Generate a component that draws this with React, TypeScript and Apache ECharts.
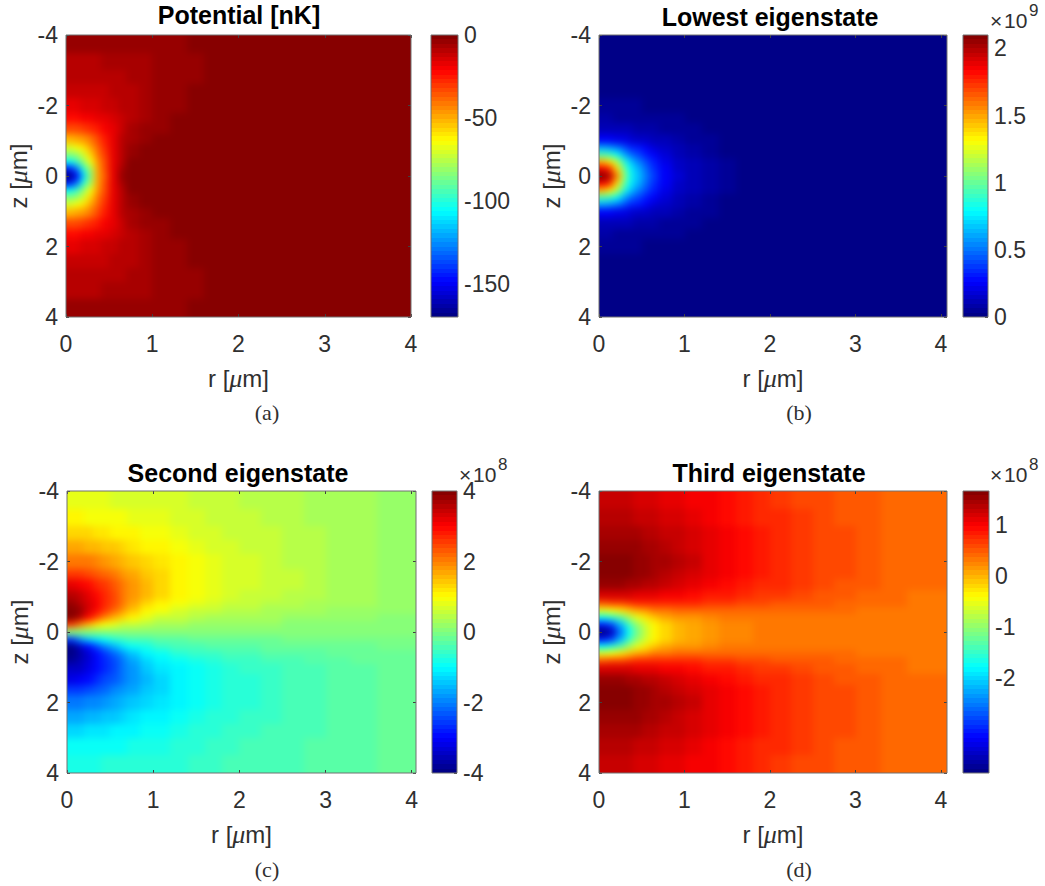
import React, { useEffect, useRef } from "react";
import * as echarts from "echarts";

const zEdges = [-4, -3.5, -3, -2.6, -2.2, -1.8, -1.5, -1.2, -0.9, -0.7, -0.5, -0.3, -0.1, 0.1, 0.3, 0.5, 0.7, 0.9, 1.2, 1.5, 1.8, 2.2, 2.6, 3, 3.5, 4];
const rEdgesFine = [0, 0.08, 0.16, 0.24, 0.32, 0.4, 0.5, 0.6, 0.7, 0.85, 1, 1.2, 1.4, 1.6, 2, 4.1];
const rEdgesWide = [0, 0.1, 0.2, 0.3, 0.4, 0.5, 0.6, 0.7, 0.85, 1, 1.2, 1.4, 1.6, 1.8, 2, 2.25, 2.5, 2.75, 3, 3.3, 3.6, 4.1];

const potential = [
  [-5, -5, -5, -5, -5, -5, -5, -5, -5, -5, -4, -4, -1, -1, -1],
  [-8, -8, -8, -8, -8, -7, -7, -7, -6, -6, -5, -4, -3, -1, -1],
  [-10, -10, -10, -10, -10, -9, -9, -8, -7, -6, -5, -4, -3, -1, -1],
  [-13, -13, -12, -12, -12, -11, -10, -9, -8, -6, -5, -4, -2, -1, -1],
  [-16, -16, -15, -15, -14, -13, -12, -10, -8, -6, -5, -3, -2, -1, -1],
  [-22, -22, -21, -20, -18, -16, -14, -11, -8, -6, -4, -2, -1, -1, -1],
  [-33, -32, -30, -27, -24, -20, -16, -11, -7, -4, -3, -1, -1, -1, -1],
  [-52, -50, -46, -40, -33, -25, -17, -10, -6, -3, -1, -1, -1, -1, -1],
  [-70, -66, -60, -50, -38, -28, -17, -10, -4, -2, -1, -1, -1, -1, -1],
  [-85, -80, -70, -58, -42, -30, -18, -9, -3, -1, -1, -1, -1, -1, -1],
  [-105, -98, -82, -66, -46, -32, -18, -8, -2, -1, -1, -1, -1, -1, -1],
  [-145, -130, -100, -78, -50, -34, -18, -6, -2, -1, -1, -1, -1, -1, -1],
  [-170, -150, -112, -85, -50, -35, -18, -5, -1, -1, -1, -1, -1, -1, -1],
  [-145, -130, -100, -78, -50, -34, -18, -6, -2, -1, -1, -1, -1, -1, -1],
  [-105, -98, -82, -66, -46, -32, -18, -8, -2, -1, -1, -1, -1, -1, -1],
  [-85, -80, -70, -58, -42, -30, -18, -9, -3, -1, -1, -1, -1, -1, -1],
  [-70, -66, -60, -50, -38, -28, -17, -10, -4, -2, -1, -1, -1, -1, -1],
  [-52, -50, -46, -40, -33, -25, -17, -10, -6, -3, -1, -1, -1, -1, -1],
  [-33, -32, -30, -27, -24, -20, -16, -11, -7, -4, -3, -1, -1, -1, -1],
  [-22, -22, -21, -20, -18, -16, -14, -11, -8, -6, -4, -2, -1, -1, -1],
  [-16, -16, -15, -15, -14, -13, -12, -10, -8, -6, -5, -3, -2, -1, -1],
  [-13, -13, -12, -12, -12, -11, -10, -9, -8, -6, -5, -4, -2, -1, -1],
  [-10, -10, -10, -10, -10, -9, -9, -8, -7, -6, -5, -4, -3, -1, -1],
  [-8, -8, -8, -8, -8, -7, -7, -7, -6, -6, -5, -4, -3, -1, -1],
  [-5, -5, -5, -5, -5, -5, -5, -5, -5, -5, -4, -4, -1, -1, -1],
];

const lowest = [
  [0, 0, 0, 0, 0, 0, 0, 0, 0, 0, 0, 0, 0, 0, 0],
  [0, 0, 0, 0, 0, 0, 0, 0, 0, 0, 0, 0, 0, 0, 0],
  [0, 0, 0, 0, 0, 0, 0, 0, 0, 0, 0, 0, 0, 0, 0],
  [0.012, 0.012, 0.012, 0.01, 0.01, 0, 0, 0, 0, 0, 0, 0, 0, 0, 0],
  [0.04, 0.04, 0.038, 0.036, 0.035, 0.033, 0.03, 0.03, 0.025, 0.02, 0.012, 0, 0, 0, 0],
  [0.07, 0.07, 0.065, 0.06, 0.06, 0.055, 0.05, 0.045, 0.04, 0.035, 0.025, 0.015, 0, 0, 0],
  [0.13, 0.13, 0.12, 0.11, 0.1, 0.09, 0.08, 0.075, 0.065, 0.055, 0.04, 0.03, 0.01, 0, 0],
  [0.25, 0.24, 0.22, 0.2, 0.18, 0.16, 0.14, 0.12, 0.1, 0.08, 0.06, 0.04, 0.02, 0, 0],
  [0.6, 0.56, 0.5, 0.43, 0.36, 0.3, 0.24, 0.19, 0.14, 0.11, 0.08, 0.05, 0.025, 0.005, 0],
  [0.95, 0.9, 0.8, 0.65, 0.52, 0.42, 0.32, 0.25, 0.18, 0.13, 0.09, 0.06, 0.03, 0.008, 0],
  [1.45, 1.35, 1.15, 0.9, 0.7, 0.55, 0.4, 0.3, 0.21, 0.14, 0.1, 0.07, 0.035, 0.01, 0],
  [1.85, 1.75, 1.4, 1.05, 0.8, 0.63, 0.46, 0.35, 0.24, 0.16, 0.11, 0.075, 0.04, 0.01, 0],
  [2.1, 2.0, 1.6, 1.15, 0.85, 0.68, 0.5, 0.38, 0.25, 0.17, 0.12, 0.08, 0.04, 0.01, 0],
  [1.85, 1.75, 1.4, 1.05, 0.8, 0.63, 0.46, 0.35, 0.24, 0.16, 0.11, 0.075, 0.04, 0.01, 0],
  [1.45, 1.35, 1.15, 0.9, 0.7, 0.55, 0.4, 0.3, 0.21, 0.14, 0.1, 0.07, 0.035, 0.01, 0],
  [0.95, 0.9, 0.8, 0.65, 0.52, 0.42, 0.32, 0.25, 0.18, 0.13, 0.09, 0.06, 0.03, 0.008, 0],
  [0.6, 0.56, 0.5, 0.43, 0.36, 0.3, 0.24, 0.19, 0.14, 0.11, 0.08, 0.05, 0.025, 0.005, 0],
  [0.25, 0.24, 0.22, 0.2, 0.18, 0.16, 0.14, 0.12, 0.1, 0.08, 0.06, 0.04, 0.02, 0, 0],
  [0.13, 0.13, 0.12, 0.11, 0.1, 0.09, 0.08, 0.075, 0.065, 0.055, 0.04, 0.03, 0.01, 0, 0],
  [0.07, 0.07, 0.065, 0.06, 0.06, 0.055, 0.05, 0.045, 0.04, 0.035, 0.025, 0.015, 0, 0, 0],
  [0.04, 0.04, 0.038, 0.036, 0.035, 0.033, 0.03, 0.03, 0.025, 0.02, 0.012, 0, 0, 0, 0],
  [0.012, 0.012, 0.012, 0.01, 0.01, 0, 0, 0, 0, 0, 0, 0, 0, 0, 0],
  [0, 0, 0, 0, 0, 0, 0, 0, 0, 0, 0, 0, 0, 0, 0],
  [0, 0, 0, 0, 0, 0, 0, 0, 0, 0, 0, 0, 0, 0, 0],
  [0, 0, 0, 0, 0, 0, 0, 0, 0, 0, 0, 0, 0, 0, 0],
];

const second = [
  [0.78, 0.78, 0.77, 0.76, 0.75, 0.74, 0.73, 0.72, 0.7, 0.67, 0.63, 0.58, 0.54, 0.5, 0.46, 0.42, 0.38, 0.35, 0.31, 0.27, 0.22],
  [1.0, 1.0, 0.98, 0.96, 0.94, 0.92, 0.9, 0.87, 0.83, 0.78, 0.72, 0.66, 0.6, 0.55, 0.5, 0.46, 0.41, 0.37, 0.32, 0.28, 0.22],
  [1.3, 1.28, 1.25, 1.2, 1.15, 1.12, 1.08, 1.03, 0.96, 0.9, 0.82, 0.74, 0.67, 0.61, 0.55, 0.5, 0.44, 0.39, 0.34, 0.29, 0.23],
  [1.7, 1.65, 1.6, 1.52, 1.45, 1.38, 1.3, 1.2, 1.12, 1.02, 0.92, 0.82, 0.74, 0.67, 0.6, 0.53, 0.47, 0.41, 0.35, 0.3, 0.23],
  [2.1, 2.05, 2, 1.9, 1.8, 1.7, 1.58, 1.45, 1.3, 1.16, 1.02, 0.9, 0.8, 0.72, 0.63, 0.56, 0.49, 0.43, 0.37, 0.3, 0.24],
  [2.6, 2.55, 2.45, 2.3, 2.15, 2, 1.85, 1.65, 1.45, 1.27, 1.08, 0.95, 0.83, 0.74, 0.65, 0.57, 0.5, 0.44, 0.37, 0.31, 0.24],
  [3.15, 3.05, 2.9, 2.7, 2.5, 2.3, 2.05, 1.8, 1.55, 1.3, 1.1, 0.95, 0.83, 0.74, 0.65, 0.57, 0.5, 0.43, 0.37, 0.3, 0.24],
  [3.5, 3.4, 3.15, 2.9, 2.65, 2.4, 2.1, 1.8, 1.5, 1.25, 1.03, 0.9, 0.78, 0.7, 0.6, 0.53, 0.46, 0.4, 0.34, 0.28, 0.22],
  [3.85, 3.6, 3.3, 3.0, 2.7, 2.4, 2.05, 1.65, 1.35, 1.1, 0.9, 0.77, 0.67, 0.6, 0.52, 0.46, 0.4, 0.35, 0.3, 0.25, 0.2],
  [4, 3.75, 3.35, 2.95, 2.55, 2.15, 1.8, 1.4, 1.1, 0.88, 0.72, 0.6, 0.53, 0.47, 0.41, 0.36, 0.32, 0.28, 0.23, 0.2, 0.15],
  [3.9, 3.5, 2.9, 2.4, 1.95, 1.55, 1.25, 1, 0.78, 0.62, 0.5, 0.42, 0.37, 0.33, 0.29, 0.25, 0.22, 0.19, 0.16, 0.14, 0.1],
  [2.6, 2, 1.5, 1.15, 0.9, 0.75, 0.6, 0.5, 0.4, 0.32, 0.26, 0.22, 0.19, 0.17, 0.15, 0.13, 0.11, 0.1, 0.08, 0.07, 0.05],
  [0, 0, 0, 0, 0, 0, 0, 0, 0, 0, 0, 0, 0, 0, 0, 0, 0, 0, 0, 0, 0],
  [-2.6, -2, -1.5, -1.15, -0.9, -0.75, -0.6, -0.5, -0.4, -0.32, -0.26, -0.22, -0.19, -0.17, -0.15, -0.13, -0.11, -0.1, -0.08, -0.07, -0.05],
  [-3.9, -3.5, -2.9, -2.4, -1.95, -1.55, -1.25, -1, -0.78, -0.62, -0.5, -0.42, -0.37, -0.33, -0.29, -0.25, -0.22, -0.19, -0.16, -0.14, -0.1],
  [-4, -3.75, -3.35, -2.95, -2.55, -2.15, -1.8, -1.4, -1.1, -0.88, -0.72, -0.6, -0.53, -0.47, -0.41, -0.36, -0.32, -0.28, -0.23, -0.2, -0.15],
  [-3.85, -3.6, -3.3, -3.0, -2.7, -2.4, -2.05, -1.65, -1.35, -1.1, -0.9, -0.77, -0.67, -0.6, -0.52, -0.46, -0.4, -0.35, -0.3, -0.25, -0.2],
  [-3.5, -3.4, -3.15, -2.9, -2.65, -2.4, -2.1, -1.8, -1.5, -1.25, -1.03, -0.9, -0.78, -0.7, -0.6, -0.53, -0.46, -0.4, -0.34, -0.28, -0.22],
  [-3.15, -3.05, -2.9, -2.7, -2.5, -2.3, -2.05, -1.8, -1.55, -1.3, -1.1, -0.95, -0.83, -0.74, -0.65, -0.57, -0.5, -0.43, -0.37, -0.3, -0.24],
  [-2.6, -2.55, -2.45, -2.3, -2.15, -2, -1.85, -1.65, -1.45, -1.27, -1.08, -0.95, -0.83, -0.74, -0.65, -0.57, -0.5, -0.44, -0.37, -0.31, -0.24],
  [-2.1, -2.05, -2, -1.9, -1.8, -1.7, -1.58, -1.45, -1.3, -1.16, -1.02, -0.9, -0.8, -0.72, -0.63, -0.56, -0.49, -0.43, -0.37, -0.3, -0.24],
  [-1.7, -1.65, -1.6, -1.52, -1.45, -1.38, -1.3, -1.2, -1.12, -1.02, -0.92, -0.82, -0.74, -0.67, -0.6, -0.53, -0.47, -0.41, -0.35, -0.3, -0.23],
  [-1.3, -1.28, -1.25, -1.2, -1.15, -1.12, -1.08, -1.03, -0.96, -0.9, -0.82, -0.74, -0.67, -0.61, -0.55, -0.5, -0.44, -0.39, -0.34, -0.29, -0.23],
  [-1.0, -1.0, -0.98, -0.96, -0.94, -0.92, -0.9, -0.87, -0.83, -0.78, -0.72, -0.66, -0.6, -0.55, -0.5, -0.46, -0.41, -0.37, -0.32, -0.28, -0.22],
  [-0.78, -0.78, -0.77, -0.76, -0.75, -0.74, -0.73, -0.72, -0.7, -0.67, -0.63, -0.58, -0.54, -0.5, -0.46, -0.42, -0.38, -0.35, -0.31, -0.27, -0.22],
];

const third = [
  [1.25, 1.25, 1.25, 1.24, 1.22, 1.2, 1.18, 1.15, 1.1, 1.05, 0.98, 0.9, 0.83, 0.77, 0.7, 0.63, 0.57, 0.52, 0.47, 0.43, 0.38],
  [1.35, 1.35, 1.35, 1.34, 1.32, 1.3, 1.27, 1.23, 1.18, 1.12, 1.04, 0.95, 0.87, 0.8, 0.72, 0.65, 0.59, 0.54, 0.48, 0.43, 0.39],
  [1.47, 1.47, 1.46, 1.45, 1.43, 1.4, 1.36, 1.31, 1.25, 1.18, 1.1, 1, 0.91, 0.83, 0.75, 0.67, 0.6, 0.55, 0.49, 0.44, 0.39],
  [1.58, 1.58, 1.57, 1.55, 1.52, 1.48, 1.44, 1.38, 1.31, 1.23, 1.13, 1.03, 0.94, 0.86, 0.77, 0.69, 0.62, 0.56, 0.5, 0.44, 0.39],
  [1.65, 1.66, 1.65, 1.62, 1.58, 1.54, 1.49, 1.42, 1.34, 1.25, 1.15, 1.05, 0.95, 0.87, 0.78, 0.7, 0.63, 0.57, 0.5, 0.44, 0.39],
  [1.66, 1.67, 1.65, 1.62, 1.57, 1.52, 1.46, 1.39, 1.31, 1.22, 1.12, 1.02, 0.93, 0.85, 0.76, 0.69, 0.62, 0.56, 0.5, 0.44, 0.39],
  [1.5, 1.52, 1.5, 1.47, 1.43, 1.38, 1.33, 1.27, 1.2, 1.12, 1.03, 0.95, 0.87, 0.8, 0.72, 0.65, 0.59, 0.54, 0.48, 0.43, 0.38],
  [1.2, 1.2, 1.2, 1.18, 1.15, 1.12, 1.08, 1.04, 1, 0.94, 0.87, 0.81, 0.75, 0.7, 0.64, 0.58, 0.54, 0.5, 0.45, 0.41, 0.37],
  [0.5, 0.55, 0.6, 0.68, 0.72, 0.75, 0.75, 0.75, 0.73, 0.72, 0.68, 0.65, 0.62, 0.58, 0.54, 0.5, 0.47, 0.44, 0.41, 0.38, 0.35],
  [-0.5, -0.45, -0.3, -0.1, 0.05, 0.2, 0.3, 0.36, 0.42, 0.45, 0.46, 0.46, 0.45, 0.44, 0.42, 0.41, 0.39, 0.38, 0.37, 0.35, 0.33],
  [-1.7, -1.6, -1.3, -0.9, -0.55, -0.3, -0.1, 0.03, 0.13, 0.2, 0.26, 0.29, 0.31, 0.33, 0.34, 0.35, 0.35, 0.35, 0.35, 0.35, 0.33],
  [-3, -2.8, -2.2, -1.5, -1, -0.65, -0.35, -0.15, 0, 0.1, 0.18, 0.23, 0.27, 0.3, 0.32, 0.34, 0.35, 0.35, 0.35, 0.35, 0.34],
  [-3.86, -3.5, -2.5, -1.7, -1.1, -0.7, -0.4, -0.2, -0.03, 0.08, 0.16, 0.22, 0.26, 0.29, 0.32, 0.33, 0.34, 0.35, 0.35, 0.35, 0.34],
  [-3, -2.8, -2.2, -1.5, -1, -0.65, -0.35, -0.15, 0, 0.1, 0.18, 0.23, 0.27, 0.3, 0.32, 0.34, 0.35, 0.35, 0.35, 0.35, 0.34],
  [-1.7, -1.6, -1.3, -0.9, -0.55, -0.3, -0.1, 0.03, 0.13, 0.2, 0.26, 0.29, 0.31, 0.33, 0.34, 0.35, 0.35, 0.35, 0.35, 0.35, 0.33],
  [-0.5, -0.45, -0.3, -0.1, 0.05, 0.2, 0.3, 0.36, 0.42, 0.45, 0.46, 0.46, 0.45, 0.44, 0.42, 0.41, 0.39, 0.38, 0.37, 0.35, 0.33],
  [0.5, 0.55, 0.6, 0.68, 0.72, 0.75, 0.75, 0.75, 0.73, 0.72, 0.68, 0.65, 0.62, 0.58, 0.54, 0.5, 0.47, 0.44, 0.41, 0.38, 0.35],
  [1.2, 1.2, 1.2, 1.18, 1.15, 1.12, 1.08, 1.04, 1, 0.94, 0.87, 0.81, 0.75, 0.7, 0.64, 0.58, 0.54, 0.5, 0.45, 0.41, 0.37],
  [1.5, 1.52, 1.5, 1.47, 1.43, 1.38, 1.33, 1.27, 1.2, 1.12, 1.03, 0.95, 0.87, 0.8, 0.72, 0.65, 0.59, 0.54, 0.48, 0.43, 0.38],
  [1.66, 1.67, 1.65, 1.62, 1.57, 1.52, 1.46, 1.39, 1.31, 1.22, 1.12, 1.02, 0.93, 0.85, 0.76, 0.69, 0.62, 0.56, 0.5, 0.44, 0.39],
  [1.65, 1.66, 1.65, 1.62, 1.58, 1.54, 1.49, 1.42, 1.34, 1.25, 1.15, 1.05, 0.95, 0.87, 0.78, 0.7, 0.63, 0.57, 0.5, 0.44, 0.39],
  [1.58, 1.58, 1.57, 1.55, 1.52, 1.48, 1.44, 1.38, 1.31, 1.23, 1.13, 1.03, 0.94, 0.86, 0.77, 0.69, 0.62, 0.56, 0.5, 0.44, 0.39],
  [1.47, 1.47, 1.46, 1.45, 1.43, 1.4, 1.36, 1.31, 1.25, 1.18, 1.1, 1, 0.91, 0.83, 0.75, 0.67, 0.6, 0.55, 0.49, 0.44, 0.39],
  [1.35, 1.35, 1.35, 1.34, 1.32, 1.3, 1.27, 1.23, 1.18, 1.12, 1.04, 0.95, 0.87, 0.8, 0.72, 0.65, 0.59, 0.54, 0.48, 0.43, 0.39],
  [1.25, 1.25, 1.25, 1.24, 1.22, 1.2, 1.18, 1.15, 1.1, 1.05, 0.98, 0.9, 0.83, 0.77, 0.7, 0.63, 0.57, 0.52, 0.47, 0.43, 0.38],
];

const titles = ["Potential [nK]", "Lowest eigenstate", "Second eigenstate", "Third eigenstate"];
const captions = ["(a)", "(b)", "(c)", "(d)"];
const exponents = ["", "9", "8", "8"];
const rAxisTicks = [0, 1, 2, 3, 4];
const zAxisTicks = [-4, -2, 0, 2, 4];
const barTicks = [
  [0, -50, -100, -150],
  [0, 0.5, 1, 1.5, 2],
  [-4, -2, 0, 2, 4],
  [-2, -1, 0, 1],
];
const barRanges = [
  [-170, 0],
  [0, 2.1],
  [-4, 4],
  [-3.86, 1.67],
];

const TEXT = "#303030";
const FONT = "'Liberation Sans', Arial, sans-serif";
const SERIF = "'Liberation Serif', 'DejaVu Serif', serif";
const LEVELS = 64;

function jetChannel(x: number) {
  return Math.round(255 * Math.max(0, Math.min(1, 1.5 - Math.abs(x))));
}
function jet(t: number) {
  const i = Math.max(0, Math.min(LEVELS - 1, Math.floor(t * LEVELS)));
  const u = (i + 0.5) / LEVELS;
  return `rgb(${jetChannel(4 * u - 3)},${jetChannel(4 * u - 2)},${jetChannel(4 * u - 1)})`;
}

function cells(rows: number[][], rEdges: number[]) {
  const out: number[][] = [];
  rows.forEach((row, j) =>
    row.forEach((v, i) => out.push([rEdges[i], rEdges[i + 1], zEdges[j], zEdges[j + 1], v]))
  );
  return out;
}

const axisNameRich = {
  t: { fontFamily: FONT, fontSize: 24, color: TEXT },
  g: { fontFamily: SERIF, fontStyle: "italic", fontSize: 26, color: TEXT },
};

const boxes = [
  { x: 66, y: 35, w: 345, h: 282, xMax: 4, barX: 431, barW: 27, rows: potential, edges: rEdgesFine, tx: 239, ty: 2, cx: 267, cy: 412, ex: 0, ey: 0 },
  { x: 599, y: 35, w: 348, h: 282, xMax: 4.07, barX: 963, barW: 25, rows: lowest, edges: rEdgesFine, tx: 770, ty: 4, cx: 799, cy: 412, ex: 990, ey: 20 },
  { x: 67, y: 491, w: 349, h: 282, xMax: 4.05, barX: 432, barW: 25, rows: second, edges: rEdgesWide, tx: 238, ty: 460, cx: 267, cy: 869, ex: 459, ey: 474 },
  { x: 599, y: 491, w: 348, h: 282, xMax: 4.07, barX: 963, barW: 26, rows: third, edges: rEdgesWide, tx: 769, ty: 460, cx: 799, cy: 869, ex: 990, ey: 474 },
];

const BLEED = 12;

function cellRenderer(lo: number, hi: number) {
  return (params: any, api: any) => {
    const a = api.coord([api.value(0), api.value(2)]);
    const b = api.coord([api.value(1), api.value(3)]);
    const c = params.coordSys;
    let x0 = Math.round(a[0]);
    let y0 = Math.round(a[1]);
    let x1 = Math.round(b[0]);
    let y1 = Math.round(b[1]);
    // Edge cells run on past the frame, so the soft shading stays saturated right up to it.
    if (x0 <= c.x + 0.5) x0 -= BLEED;
    if (x1 >= c.x + c.width - 0.5) x1 += BLEED;
    if (y0 <= c.y + 0.5) y0 -= BLEED;
    if (y1 >= c.y + c.height - 0.5) y1 += BLEED;
    return {
      type: "rect",
      shape: { x: x0, y: y0, width: x1 - x0, height: y1 - y0 },
      style: { fill: jet((api.value(4) - lo) / (hi - lo)) },
    };
  };
}

function buildHeatOption() {
  const grid: any[] = [];
  const xAxis: any[] = [];
  const yAxis: any[] = [];
  const series: any[] = [];
  boxes.forEach((b, k) => {
    const [lo, hi] = barRanges[k];
    grid.push({ left: b.x, top: b.y, width: b.w, height: b.h });
    xAxis.push({ gridIndex: k, type: "value", min: 0, max: b.xMax, show: false });
    yAxis.push({ gridIndex: k, type: "value", min: -4, max: 4, inverse: true, show: false });
    series.push({
      type: "custom", coordinateSystem: "cartesian2d", xAxisIndex: k, yAxisIndex: k, clip: false, silent: true,
      renderItem: cellRenderer(lo, hi),
      encode: { x: [0, 1], y: [2, 3] },
      data: cells(b.rows, b.edges),
    });
  });
  return { animation: false, grid, xAxis, yAxis, series };
}

function buildOption() {
  const grid: any[] = [];
  const xAxis: any[] = [];
  const yAxis: any[] = [];
  const series: any[] = [];
  const graphic: any[] = [];
  const title: any[] = [];
  const tick = { show: true, inside: true, length: 3, lineStyle: { color: "#404040", width: 1 } };
  const label = { color: TEXT, fontFamily: FONT, fontSize: 23 };
  const noLine = { show: false, onZero: false };

  boxes.forEach((b, k) => {
    const [lo, hi] = barRanges[k];
    const g0 = grid.length;
    grid.push({ left: b.x, top: b.y, width: b.w, height: b.h, show: true, borderColor: "#707070", borderWidth: 1, backgroundColor: "transparent", z: 5 });
    grid.push({ left: b.barX, top: b.y, width: b.barW, height: b.h, show: true, borderColor: "#707070", borderWidth: 1, backgroundColor: "transparent", z: 5 });

    const yi = yAxis.length;
    const xi = xAxis.length;
    xAxis.push({
      gridIndex: g0, type: "value", min: 0, max: b.xMax, position: "bottom", splitLine: { show: false }, axisLine: noLine,
      axisTick: { ...tick, customValues: rAxisTicks },
      axisLabel: { ...label, margin: 15, customValues: rAxisTicks, formatter: (v: number) => String(v) },
      name: "{t|r [}{g|μ}{t|m]}", nameLocation: "middle", nameGap: 48, nameTextStyle: { rich: axisNameRich },
    });
    xAxis.push({
      gridIndex: g0, type: "value", min: 0, max: b.xMax, position: "top", splitLine: { show: false }, axisLine: noLine,
      axisTick: { ...tick, customValues: rAxisTicks }, axisLabel: { show: false },
    });
    yAxis.push({
      gridIndex: g0, type: "value", min: -4, max: 4, inverse: true, position: "left", splitLine: { show: false }, axisLine: noLine,
      axisTick: { ...tick, customValues: zAxisTicks },
      axisLabel: { ...label, margin: 8, padding: [6, 0, 0, 0], customValues: zAxisTicks, formatter: (v: number) => String(v) },
      name: "{t|z [}{g|μ}{t|m]}", nameLocation: "middle", nameGap: 35, nameTextStyle: { rich: axisNameRich },
    });
    yAxis.push({
      gridIndex: g0, type: "value", min: -4, max: 4, inverse: true, position: "right", splitLine: { show: false }, axisLine: noLine,
      axisTick: { ...tick, customValues: zAxisTicks }, axisLabel: { show: false },
    });
    // colour bar
    xAxis.push({ gridIndex: g0 + 1, type: "value", min: 0, max: 1, show: false });
    yAxis.push({
      gridIndex: g0 + 1, type: "value", min: lo, max: hi, position: "right", splitLine: { show: false }, axisLine: noLine,
      axisTick: { ...tick, customValues: barTicks[k] },
      axisLabel: { ...label, margin: 6, padding: [6, 0, 0, 0], customValues: barTicks[k], formatter: (v: number) => String(v) },
    });

    const bands: number[][] = [];
    for (let i = 0; i < LEVELS; i++) {
      bands.push([lo + ((hi - lo) * i) / LEVELS, lo + ((hi - lo) * (i + 1)) / LEVELS]);
    }
    series.push({
      type: "custom", coordinateSystem: "cartesian2d", xAxisIndex: xi + 2, yAxisIndex: yi + 2, clip: true, silent: true,
      renderItem: (params: any, api: any) => {
        const p = api.coord([0, api.value(1)]);
        const q = api.coord([1, api.value(0)]);
        return {
          type: "rect",
          shape: { x: p[0], y: Math.round(p[1]), width: q[0] - p[0], height: Math.round(q[1]) - Math.round(p[1]) },
          style: { fill: jet(((api.value(0) + api.value(1)) / 2 - lo) / (hi - lo)) },
        };
      },
      encode: { y: [0, 1] },
      data: bands,
    });

    title.push({
      text: titles[k], left: b.tx, top: b.ty, textAlign: "center", padding: 0,
      textStyle: { fontFamily: FONT, fontWeight: "bold", fontSize: 25, color: "#000000" },
    });
    graphic.push({
      type: "text", x: b.cx, y: b.cy, style: { text: captions[k], fontFamily: SERIF, fontSize: 22, fill: "#303030", align: "center", verticalAlign: "middle" },
    });
    if (exponents[k]) {
      graphic.push({
        type: "text", x: b.ex, y: b.ey,
        style: { text: "×\u200a10", fontFamily: FONT, fontSize: 21, lineHeight: 18, fill: TEXT, verticalAlign: "middle", align: "left" },
      });
      graphic.push({
        type: "text", x: b.ex + 39, y: b.ey - 10,
        style: { text: exponents[k], fontFamily: FONT, fontSize: 17, lineHeight: 14, fill: TEXT, verticalAlign: "middle", align: "left" },
      });
    }
  });

  return { animation: false, title, grid, xAxis, yAxis, series, graphic };
}

// Only the plot rectangles of the soft layer are shown.
const plotClip = boxes
  .map((b) => `M${b.x} ${b.y}H${b.x + b.w}V${b.y + b.h}H${b.x}Z`)
  .join(" ");

export default function App() {
  const heatRef = useRef<HTMLDivElement>(null);
  const ref = useRef<HTMLDivElement>(null);
  useEffect(() => {
    const heat = echarts.init(heatRef.current!, undefined, { renderer: "svg" });
    heat.setOption(buildHeatOption() as any);
    const chart = echarts.init(ref.current!, undefined, { renderer: "svg" });
    chart.setOption(buildOption() as any);
    return () => {
      heat.dispose();
      chart.dispose();
    };
  }, []);
  return (
    <div style={{ position: "absolute", left: 0, top: 0, width: 1045, height: 886, background: "#ffffff" }}>
      <div style={{ position: "absolute", left: 0, top: 0, width: 1045, height: 886, clipPath: `path("${plotClip}")` }}>
        <div ref={heatRef} style={{ position: "absolute", left: 0, top: 0, width: 1045, height: 886, filter: "blur(3.5px)" }} />
      </div>
      <div ref={ref} style={{ position: "absolute", left: 0, top: 0, width: 1045, height: 886 }} />
    </div>
  );
}
